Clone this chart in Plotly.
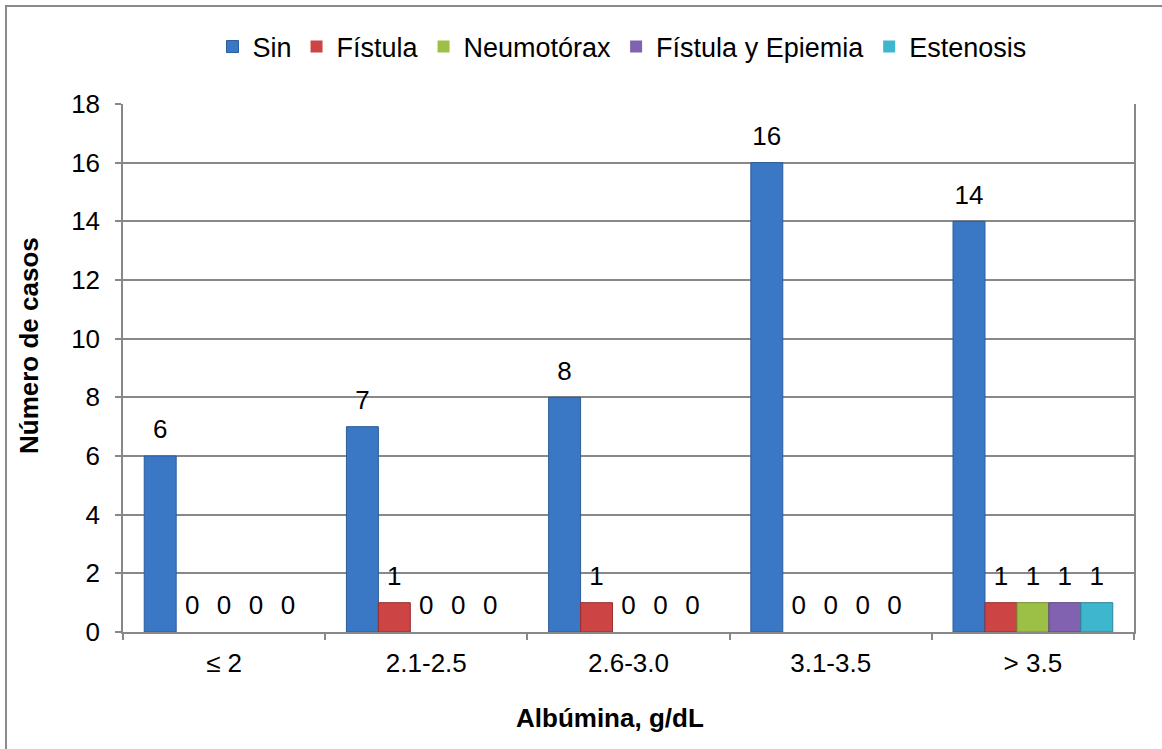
import plotly.graph_objects as go

# Albumin ranges and number of cases per complication
categories = ["≤ 2", "2.1-2.5", "2.6-3.0", "3.1-3.5", "> 3.5"]
sin = [6, 7, 8, 16, 14]
fistula = [0, 1, 1, 0, 1]
neumotorax = [0, 0, 0, 0, 1]
fistula_epiemia = [0, 0, 0, 0, 1]
estenosis = [0, 0, 0, 0, 1]

series = [
    ("Sin", sin, "#3A78C6", "#2A5C9C"),
    ("Fístula", fistula, "#CC4444", "#9A2E2E"),
    ("Neumotórax", neumotorax, "#9CC045", "#738F30"),
    ("Fístula y Epiemia", fistula_epiemia, "#8062B0", "#5E4785"),
    ("Estenosis", estenosis, "#3DB6CE", "#2A8699"),
]

FONT = "Liberation Sans, Arial, sans-serif"
FS = 26
W, H = 1162, 749
ML, MR, MT, MB = 123, 28, 104, 117
PW, PH = W - ML - MR, H - MT - MB


def px_x(px):
    return (px - ML) / PW


def px_y(py):
    return (H - MB - py) / PH


fig = go.Figure()

# Visible bars (no outline on empty bars)
for name, vals, color, edge in series:
    fig.add_trace(go.Bar(
        x=categories, y=vals, name=name,
        marker=dict(color=color,
                    line=dict(color=edge, width=[1 if v else 0 for v in vals])),
        yaxis="y",
    ))

# Value labels: same values on an overlaid axis lifted slightly
for name, vals, color, edge in series:
    fig.add_trace(go.Bar(
        x=categories, y=vals, name=name, showlegend=False,
        marker=dict(color="rgba(0,0,0,0)", line=dict(width=0)),
        text=[str(v) for v in vals], textposition="outside",
        textfont=dict(family=FONT, size=FS, color="black"),
        cliponaxis=False, hoverinfo="skip",
        yaxis="y2",
    ))

fig.update_layout(
    width=W, height=H,
    margin=dict(l=ML, r=MR, t=MT, b=MB),
    paper_bgcolor="white", plot_bgcolor="white",
    barmode="group", bargap=0.21, bargroupgap=0,
    font=dict(family=FONT, size=FS, color="black"),
    showlegend=True,
    legend=dict(
        orientation="h", x=px_x(622), y=px_y(47),
        xanchor="center", yanchor="middle",
        font=dict(family=FONT, size=27, color="black"),
        itemwidth=30, bgcolor="rgba(0,0,0,0)",
    ),
    xaxis=dict(
        type="category", tickson="boundaries",
        ticks="outside", ticklen=6, tickcolor="#888888", tickwidth=1.5,
        showline=True, linecolor="#888888", linewidth=1.5, mirror=False,
        showgrid=False,
        tickfont=dict(family=FONT, size=FS, color="black"),
        ticklabelstandoff=7,
    ),
    yaxis=dict(
        range=[0, 18], dtick=2, tick0=0,
        ticks="outside", ticklen=6, tickcolor="#888888", tickwidth=1.5,
        showline=True, linecolor="#888888", linewidth=1.5, mirror=True,
        showgrid=True, gridcolor="#888888", gridwidth=1.5,
        zeroline=False,
        tickfont=dict(family=FONT, size=FS, color="black"),
        ticklabelstandoff=10,
    ),
    yaxis2=dict(
        range=[-0.3, 17.7], overlaying="y", visible=False,
    ),
    annotations=[
        dict(text="<b>Número de casos</b>", textangle=-90,
             x=px_x(29), y=px_y(346), xref="paper", yref="paper",
             xanchor="center", yanchor="middle",
             showarrow=False, font=dict(family=FONT, size=FS, color="black")),
        dict(text="<b>Albúmina, g/dL</b>",
             x=px_x(610), y=px_y(718), xref="paper", yref="paper",
             xanchor="center", yanchor="middle",
             showarrow=False, font=dict(family=FONT, size=FS, color="black")),
    ],
    shapes=[
        dict(type="rect", xref="paper", yref="paper",
             x0=px_x(6), x1=px_x(1200), y0=px_y(800), y1=px_y(6),
             line=dict(color="#8A8A8A", width=2), fillcolor="rgba(0,0,0,0)",
             layer="below"),
    ],
)

fig.write_html("out.html")
